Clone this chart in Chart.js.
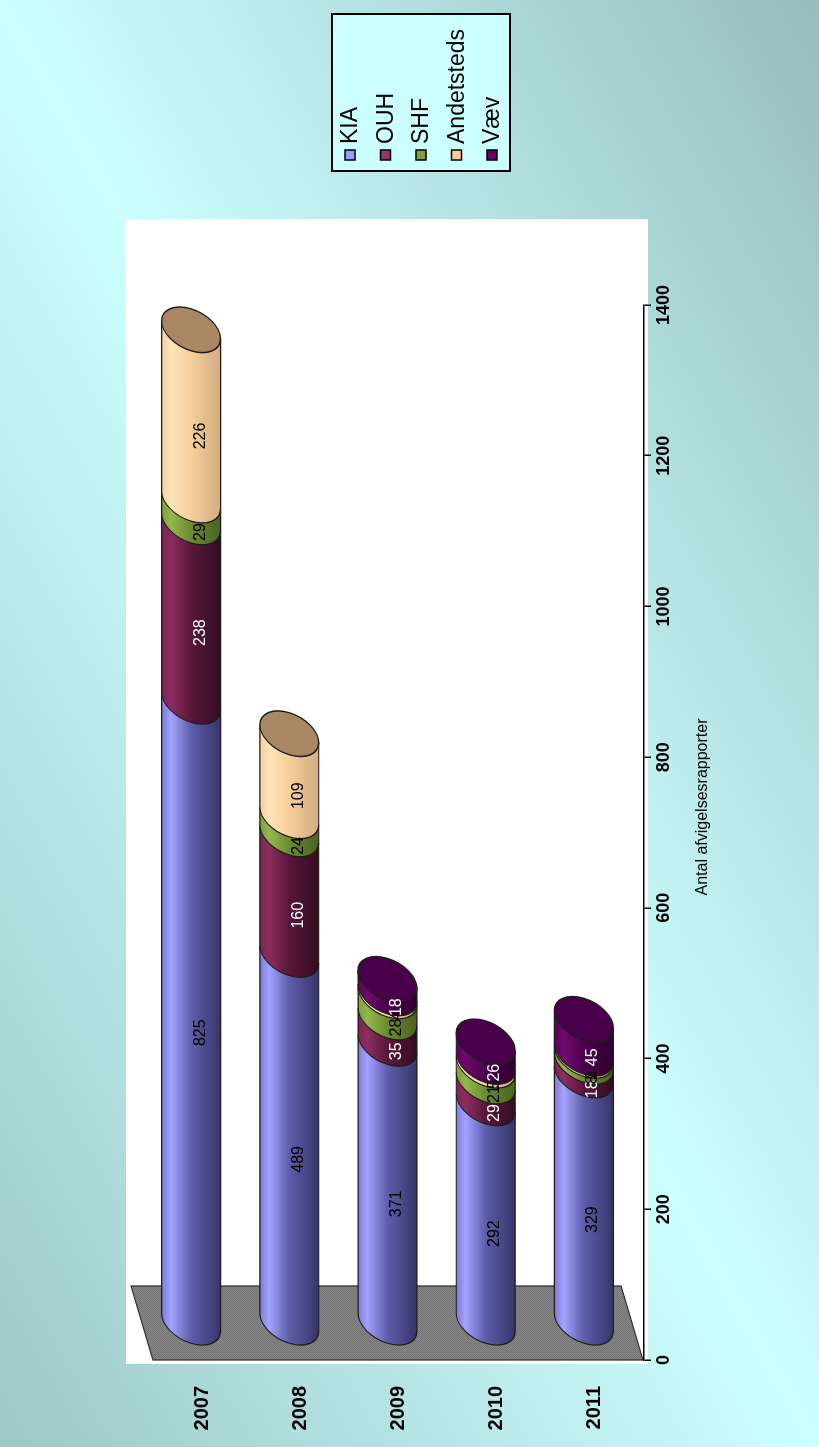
<!DOCTYPE html>
<html>
<head>
<meta charset="utf-8">
<script src="https://cdn.jsdelivr.net/npm/chart.js@4/dist/chart.umd.min.js"></script>
<style>
  html, body { margin: 0; padding: 0; width: 819px; height: 1447px; overflow: hidden; }
  body { background: linear-gradient(to bottom left, #97bdbd 0%, #ccffff 50%, #9ec7c7 100%); }
  /* the chart is laid out landscape and turned a quarter turn */
  #frame { position: absolute; left: 0; top: 0; width: 1447px; height: 819px;
           transform-origin: 0 0; transform: translate(0px, 1447px) rotate(-90deg); }
</style>
</head>
<body>
<div id="frame"><canvas id="c" width="1447" height="819"></canvas></div>
<script>
// ---- data ----
const years      = ['2007', '2008', '2009', '2010', '2011'];
const kia        = [825, 489, 371, 292, 329];
const ouh        = [238, 160, 35, 29, 18];
const shf        = [29, 24, 28, 21, 8];
const andetsteds = [226, 109, 4, 5, 3];
const vaev       = [0, 0, 18, 26, 45];
const seriesNames = ['KIA', 'OUH', 'SHF', 'Andetsteds', 'Væv'];
const valueMax = 1400;
const valueStep = 200;
const axisTitle = 'Antal afvigelsesrapporter';

// ---- styling ----
const legendColors = ['#9999ff', '#993366', '#7f9f3f', '#ffcc99', '#660066'];
// cylinder shading: edge, highlight, middle, shadow
const shades = [
  ['#7c7cd8', '#a2a2ff', '#5d5daa', '#36366a'],
  ['#7d2553', '#8c2d5f', '#58173a', '#350c22'],
  ['#7f9e3c', '#93b84a', '#6c8a30', '#4b6220'],
  ['#f2cfa0', '#ffe3b8', '#f6cf9c', '#d2ab80'],
  ['#5a005a', '#6e0a6e', '#4c004c', '#2e002e']
];
const capColors = ['#6e6ec0', '#6a1d45', '#6f8c34', '#a98763', '#48004a'];
const labelColors = ['#000000', '#ffffff', '#000000', '#000000', '#ffffff'];
const FONT = 'Arial, "Liberation Sans", sans-serif';

const floorDepth = { x: 74, y: -22 };   // full depth of the 3-D base
const barShift = { x: floorDepth.x / 2, y: floorDepth.y / 2 };
const capRx = 21;                        // radius of the cylinder ends along the value axis
const shear = -0.3;                      // slant of the ellipses

function shade(ctx, r, c) {
  const g = ctx.createLinearGradient(0, -r, 0, r);
  g.addColorStop(0, c[0]);
  g.addColorStop(0.16, c[1]);
  g.addColorStop(0.5, c[2]);
  g.addColorStop(1, c[3]);
  return g;
}

function drawSegment(ctx, xs, xe, cy, ry, colors) {
  ctx.save();
  ctx.translate(0, cy);
  ctx.transform(1, 0, shear, 1, 0, 0);
  ctx.beginPath();
  ctx.moveTo(xe, -ry);
  ctx.lineTo(xs, -ry);
  ctx.ellipse(xs, 0, capRx, ry, 0, -Math.PI / 2, Math.PI / 2, true);
  ctx.lineTo(xe, ry);
  ctx.closePath();
  ctx.fillStyle = shade(ctx, ry, colors);
  ctx.fill();
  ctx.beginPath();
  ctx.moveTo(xe, -ry);
  ctx.lineTo(xs, -ry);
  ctx.ellipse(xs, 0, capRx, ry, 0, -Math.PI / 2, Math.PI / 2, true);
  ctx.lineTo(xe, ry);
  ctx.strokeStyle = '#1c1c1c';
  ctx.lineWidth = 1.2;
  ctx.stroke();
  ctx.restore();
}

function drawCap(ctx, x, cy, ry, color) {
  ctx.save();
  ctx.translate(0, cy);
  ctx.transform(1, 0, shear, 1, 0, 0);
  ctx.beginPath();
  ctx.ellipse(x, 0, capRx, ry, 0, 0, Math.PI * 2);
  ctx.fillStyle = color;
  ctx.fill();
  ctx.strokeStyle = '#1c1c1c';
  ctx.lineWidth = 1.4;
  ctx.stroke();
  ctx.restore();
}

const backdrop = {
  id: 'backdrop',
  beforeDraw(chart) {
    const ctx = chart.ctx;
    ctx.save();
    ctx.fillStyle = '#ffffff';
    ctx.fillRect(83, 126, 1145, 522);
    ctx.restore();
  },
  beforeDatasetsDraw(chart) {
    const ctx = chart.ctx;
    const a = chart.chartArea;
    const x0 = chart.scales.x.getPixelForValue(0);
    // textured base plane at zero
    const p = document.createElement('canvas');
    p.width = 2; p.height = 2;
    const pc = p.getContext('2d');
    pc.fillStyle = '#858585'; pc.fillRect(0, 0, 2, 2);
    pc.fillStyle = '#767676'; pc.fillRect(0, 0, 1, 1); pc.fillRect(1, 1, 1, 1);
    ctx.save();
    ctx.beginPath();
    ctx.moveTo(x0, a.top);
    ctx.lineTo(x0, a.bottom - 1);
    ctx.lineTo(x0 + floorDepth.x, a.bottom - 1 + floorDepth.y);
    ctx.lineTo(x0 + floorDepth.x, a.top + floorDepth.y);
    ctx.closePath();
    ctx.fillStyle = ctx.createPattern(p, 'repeat');
    ctx.fill();
    ctx.strokeStyle = '#2a2a2a';
    ctx.lineWidth = 1.2;
    ctx.stroke();
    ctx.restore();
  }
};

const cylinders = {
  id: 'cylinders',
  afterDatasetsDraw(chart) {
    const ctx = chart.ctx;
    const n = chart.data.labels.length;
    const metas = chart.data.datasets.map((d, i) => chart.getDatasetMeta(i));
    for (let j = 0; j < n; j++) {
      let top = -1;
      for (let i = 0; i < metas.length; i++) {
        const v = chart.data.datasets[i].data[j];
        if (!v) continue;
        const el = metas[i].data[j];
        const ry = el.height / 2;
        drawSegment(ctx, el.base + barShift.x, el.x + barShift.x, el.y + barShift.y, ry, shades[i]);
        top = i;
      }
      if (top >= 0) {
        const el = metas[top].data[j];
        drawCap(ctx, el.x + barShift.x, el.y + barShift.y, el.height / 2, capColors[top]);
      }
    }
    // value labels, centred on the front face of each segment
    ctx.save();
    ctx.font = '16px ' + FONT;
    ctx.textAlign = 'center';
    ctx.textBaseline = 'middle';
    for (let i = 0; i < metas.length; i++) {
      const ds = chart.data.datasets[i];
      metas[i].data.forEach((el, j) => {
        const v = ds.data[j];
        if (!v) return;
        ctx.fillStyle = labelColors[i];
        ctx.fillText(String(v), (el.base + el.x) / 2 + barShift.x - capRx, el.y - 2);
      });
    }
    ctx.restore();
  },
  afterDraw(chart) {
    const ctx = chart.ctx;
    // value axis title
    ctx.save();
    ctx.font = '16px ' + FONT;
    ctx.fillStyle = '#000';
    ctx.textAlign = 'center';
    ctx.textBaseline = 'middle';
    ctx.fillText(axisTitle, 640, 703);
    ctx.restore();
    // legend
    const lx = 1276, ly = 332, lw = 157, lh = 178;
    ctx.save();
    ctx.fillStyle = '#ccffff';
    ctx.fillRect(lx, ly, lw, lh);
    ctx.strokeStyle = '#000';
    ctx.lineWidth = 2;
    ctx.strokeRect(lx, ly, lw, lh);
    ctx.font = '23px ' + FONT;
    ctx.textBaseline = 'middle';
    ctx.textAlign = 'left';
    chart.data.datasets.forEach((ds, i) => {
      const cy = ly + 18 + i * 35.5;
      ctx.fillStyle = legendColors[i];
      ctx.fillRect(lx + 11, cy - 5, 10, 10);
      ctx.strokeStyle = '#000';
      ctx.lineWidth = 1.5;
      ctx.strokeRect(lx + 11, cy - 5, 10, 10);
      ctx.fillStyle = '#000';
      ctx.fillText(ds.label, lx + 27, cy + 1);
    });
    ctx.restore();
  }
};

const seriesData = [kia, ouh, shf, andetsteds, vaev];

new Chart(document.getElementById('c'), {
  type: 'bar',
  data: {
    labels: years,
    datasets: seriesData.map((d, i) => ({
      label: seriesNames[i],
      data: d,
      backgroundColor: 'rgba(0,0,0,0)',
      borderWidth: 0,
      barPercentage: 0.6,
      categoryPercentage: 1.0
    }))
  },
  options: {
    indexAxis: 'y',
    responsive: false,
    animation: false,
    devicePixelRatio: 1,
    layout: { padding: { left: 0, right: 305, top: 153, bottom: 0 } },
    plugins: { legend: { display: false }, tooltip: { enabled: false } },
    scales: {
      x: {
        stacked: true,
        min: 0,
        max: valueMax,
        position: 'bottom',
        afterFit(s) { s.height = 175; },
        ticks: { stepSize: valueStep, color: '#000', padding: 2,
                 callback: (v) => String(v),
                 font: { family: FONT, size: 18, weight: 'bold' } },
        grid: { display: true, drawOnChartArea: false, drawTicks: true, tickLength: 7,
                color: '#000', lineWidth: 1.5 },
        border: { display: true, color: '#000', width: 1.5 }
      },
      y: {
        stacked: true,
        position: 'left',
        afterFit(s) { s.width = 87; },
        ticks: { color: '#000', padding: 26,
                 font: { family: FONT, size: 20, weight: 'bold' } },
        grid: { display: false, drawTicks: false },
        border: { display: false }
      }
    }
  },
  plugins: [backdrop, cylinders]
});
</script>
</body>
</html>
